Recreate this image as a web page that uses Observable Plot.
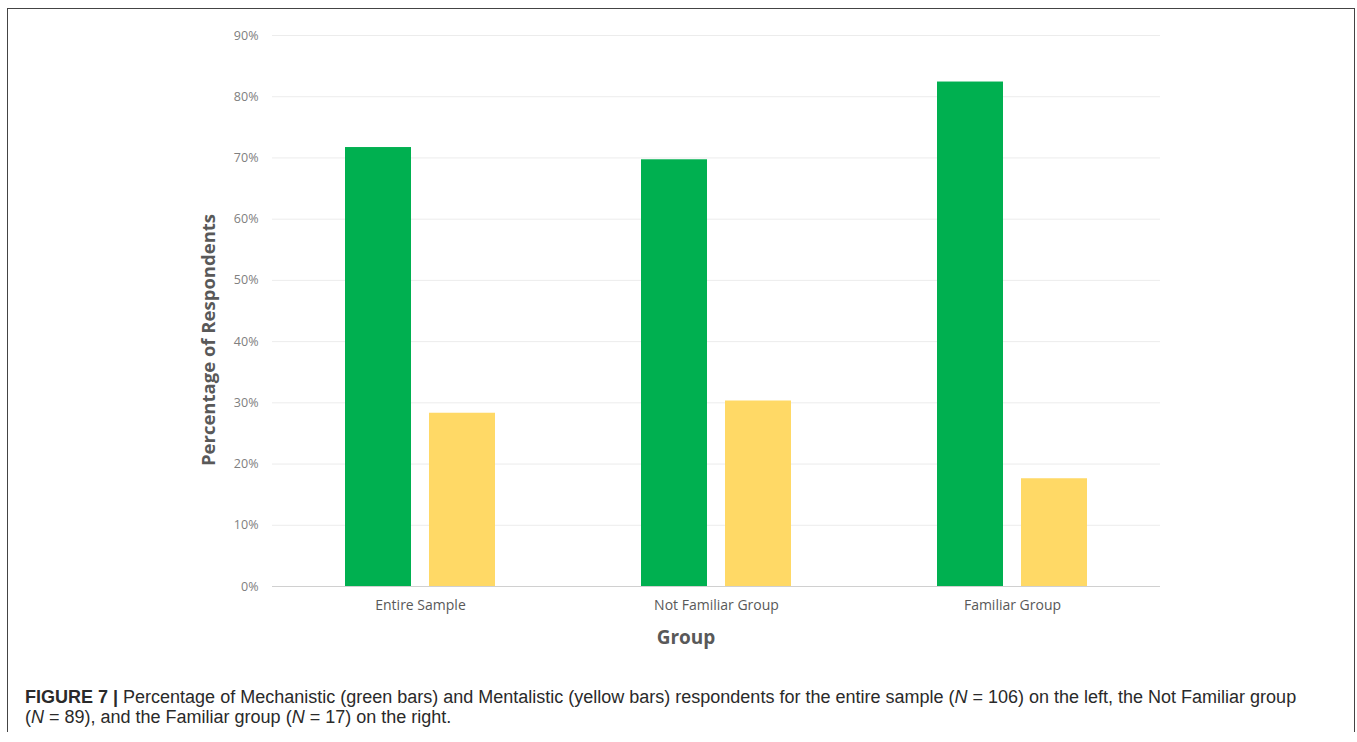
<!DOCTYPE html>
<html>
<head>
<meta charset="utf-8">
<script src="https://cdn.jsdelivr.net/npm/d3@7"></script>
<script src="https://cdn.jsdelivr.net/npm/@observablehq/plot@0.6"></script>
<style>
  html, body { margin: 0; padding: 0; background: #fff; }
  #page { position: relative; width: 1357px; height: 742px; overflow: hidden; }
  #frame { position: absolute; left: 7px; top: 8px; width: 1348px; height: 724px; box-sizing: border-box; border: 1.5px solid #444; border-bottom: none; }
  #chart { position: absolute; left: 0; top: 0; }
  #ytitle { position: absolute; left: 207px; top: 340px; transform: translate(-50%, -50%) rotate(-90deg); white-space: nowrap; font-family: "Open Sans", sans-serif; font-weight: 700; font-size: 18.5px; color: #595959; }
  #xtitle { position: absolute; left: 686px; top: 637px; transform: translate(-50%, -50%); white-space: nowrap; font-family: "Open Sans", sans-serif; font-weight: 700; font-size: 19px; color: #595959; }
  #caption { position: absolute; left: 25px; top: 688px; font-family: "Liberation Sans", Arial, sans-serif; font-size: 18px; line-height: 19.5px; color: #2a2a2a; white-space: nowrap; }
  #caption b { font-weight: 700; }
</style>
</head>
<body>
<div id="page">
  <div id="frame"></div>
  <div id="chart"></div>
  <div id="ytitle">Percentage of Respondents</div>
  <div id="xtitle">Group</div>
  <div id="caption"><b>FIGURE 7 |</b> Percentage of Mechanistic (green bars) and Mentalistic (yellow bars) respondents for the entire sample (<i>N</i> = 106) on the left, the Not Familiar group<br>(<i>N</i> = 89), and the Familiar group (<i>N</i> = 17) on the right.</div>
</div>
<script>
const groups = ["Entire Sample", "Not Familiar Group", "Familiar Group"];
const series = ["Mechanistic", "Mentalistic"];
const mechanistic = [71.7, 69.7, 82.4];
const mentalistic = [28.3, 30.3, 17.6];
const yTicks = [0, 10, 20, 30, 40, 50, 60, 70, 80, 90];
const seriesColors = ["#00b050", "#ffd966"];

const data = [];
groups.forEach((g, i) => {
  data.push({group: g, series: series[0], value: mechanistic[i]});
  data.push({group: g, series: series[1], value: mentalistic[i]});
});

const chart = Plot.plot({
  width: 1357,
  height: 650,
  marginLeft: 271,
  marginRight: 196,
  marginTop: 35,
  marginBottom: 64,
  style: {fontFamily: "'Open Sans', sans-serif", background: "transparent"},
  fx: {domain: groups, padding: 0, label: null},
  x: {domain: series, paddingInner: 0.212, paddingOuter: 0.853, axis: null},
  y: {domain: [0, 90], label: null},
  color: {domain: series, range: seriesColors},
  marks: [
    Plot.gridY(yTicks.slice(1), {stroke: "#ececec", strokeOpacity: 1}),
    Plot.barY(data, {fx: "group", x: "series", y: "value", fill: "series", insetLeft: 0, insetRight: 0}),
    Plot.ruleY([0], {stroke: "#d0d0d0"}),
    Plot.axisY(yTicks, {tickSize: 0, tickPadding: 14, tickFormat: d => d + "%", fontSize: 12.5, fill: "#808080", label: null}),
    Plot.axisFx({anchor: "bottom", tickSize: 0, tickPadding: 14, fontSize: 14, fill: "#595959", label: null})
  ]
});
document.getElementById("chart").appendChild(chart);
</script>
</body>
</html>
